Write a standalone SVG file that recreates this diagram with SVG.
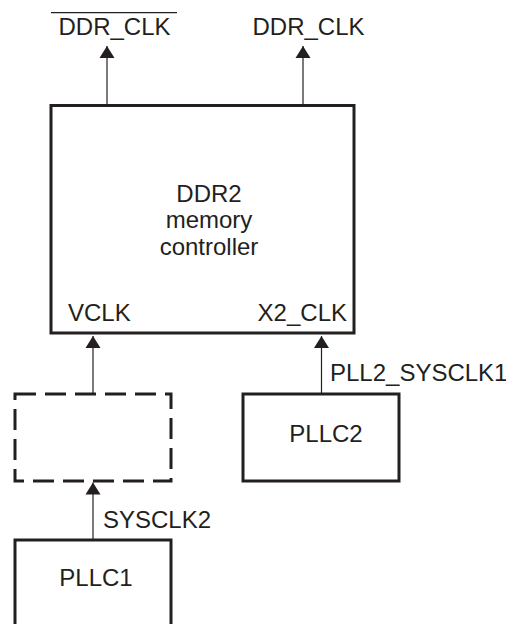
<svg xmlns="http://www.w3.org/2000/svg" width="506" height="624" viewBox="0 0 506 624">
<style>
.box{fill:none;stroke:#231f20;stroke-width:3}
.dash{stroke-dasharray:21 9}
.wire{stroke:#231f20;stroke-width:1.2;fill:none;marker-end:url(#ah)}
text{font-family:"Liberation Sans",Arial,sans-serif;font-size:24px;fill:#231f20}
.c{text-anchor:middle}
</style>
<defs>
<marker id="ah" markerUnits="userSpaceOnUse" markerWidth="13" markerHeight="16" viewBox="0 0 13 16" refX="12.5" refY="8" orient="auto">
<path d="M0.5,0.5 L12.5,8 L0.5,15.5 Z" fill="#231f20"/>
</marker>
</defs>
<rect width="506" height="624" fill="#fff"/>
<g id="connectors">
<line class="wire" x1="107" y1="105" x2="107" y2="46"/>
<line class="wire" x1="303" y1="105" x2="303" y2="46"/>
<line class="wire" x1="93" y1="394" x2="93" y2="336"/>
<line class="wire" x1="321.5" y1="394" x2="321.5" y2="336"/>
<line class="wire" x1="93" y1="540" x2="93" y2="482.5"/>
<text x="330" y="381">PLL2_SYSCLK1</text>
<text x="103" y="528">SYSCLK2</text>
</g>
<g id="out-labels">
<line x1="51" y1="12.7" x2="177" y2="12.7" stroke="#231f20" stroke-width="1.3"/>
<text x="114.5" y="35" class="c">DDR_CLK</text>
<text x="308.5" y="35" class="c">DDR_CLK</text>
</g>
<g id="ddr2">
<rect class="box" x="51" y="105.5" width="303" height="227.5"/>
<text x="209" y="202" class="c">DDR2</text>
<text x="209" y="228" class="c">memory</text>
<text x="209" y="255" class="c">controller</text>
<text x="68" y="321">VCLK</text>
<text x="347" y="321" text-anchor="end">X2_CLK</text>
</g>
<g id="dashed">
<rect class="box dash" x="15" y="394" width="156" height="87"/>
</g>
<g id="pllc2">
<rect class="box" x="243" y="394" width="156" height="87"/>
<text x="326" y="442" class="c">PLLC2</text>
</g>
<g id="pllc1">
<rect class="box" x="15" y="540" width="156" height="100"/>
<text x="96" y="586" class="c">PLLC1</text>
</g>
</svg>
